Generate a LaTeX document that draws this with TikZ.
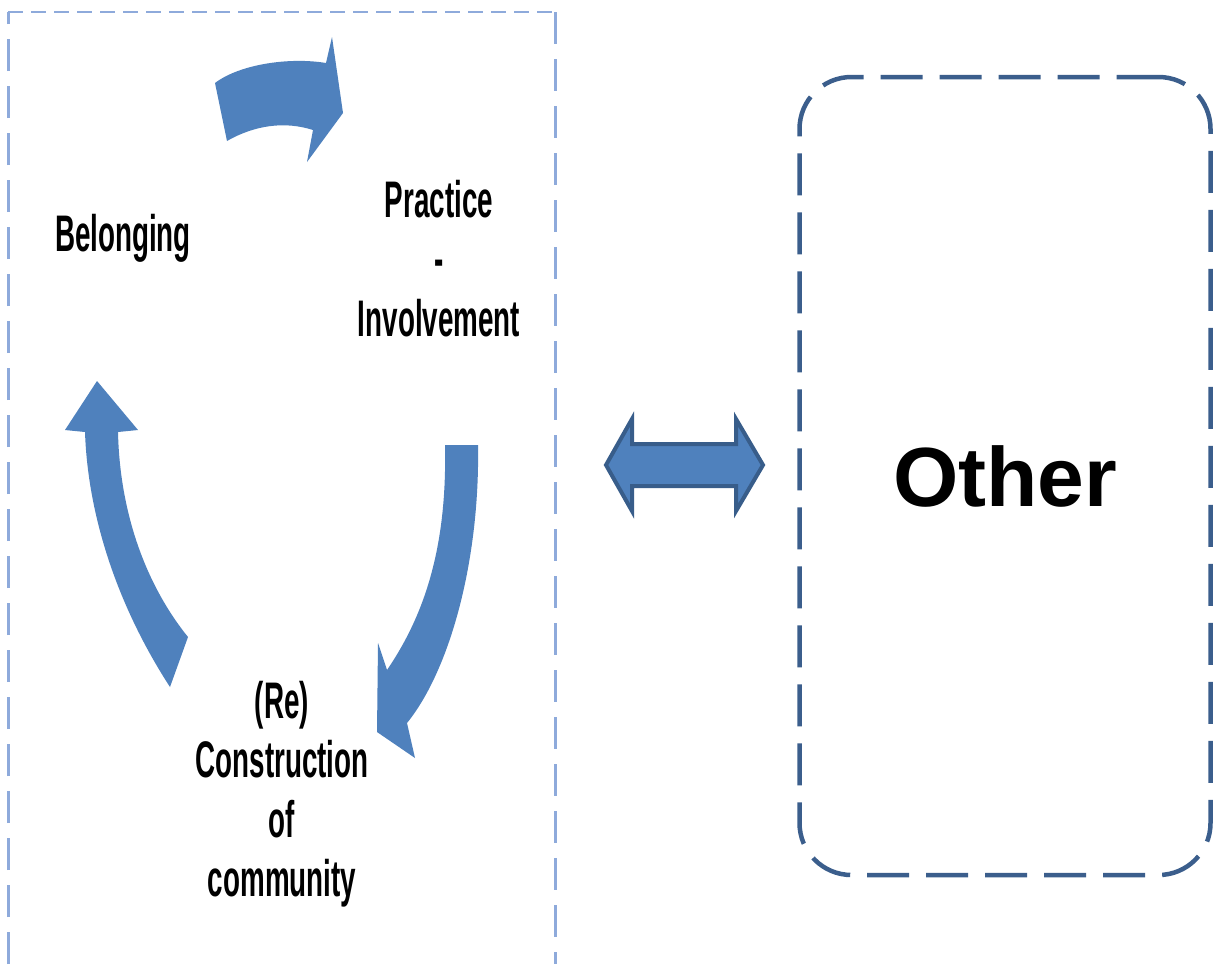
\documentclass[tikz,border=0pt]{standalone}
\usepackage{fontspec}
\setmainfont{Liberation Sans}
\usepackage{graphicx}
\definecolor{arrowblue}{HTML}{4F81BD}
\definecolor{arrowedge}{HTML}{385D8A}
\definecolor{lightdash}{HTML}{8EAADB}
\definecolor{darkdash}{HTML}{3B5E8C}
\newcommand{\stretchtext}[1]{\scalebox{1}[1.85]{\begin{tabular}[t]{@{}c@{}}#1\end{tabular}}}
\tikzset{
  cyc/.style={inner sep=0pt, anchor=base, font=\fontsize{27.8}{32.2}\selectfont\bfseries},
  cyclearrow/.style={fill=arrowblue, draw=none},
  sidedash/.style={draw=lightdash, line width=3pt, dash pattern=on 32pt off 15pt},
  topdash/.style={draw=lightdash, line width=2.5pt, dash pattern=on 15pt off 8pt},
  otherbox/.style={draw=darkdash, line width=4.5pt, dash pattern=on 42pt off 17pt,
    rounded corners=52pt, minimum width=411pt, minimum height=798pt,
    inner sep=0pt, font=\fontsize{84}{92}\selectfont\bfseries},
  dblarrow/.style={fill=arrowblue, draw=arrowedge, line width=4pt, line join=miter}
}
\begin{document}
\begin{tikzpicture}[x=1pt,y=-1pt]
\useasboundingbox (0,0) rectangle (1217,964);
\fill[white] (0,0) rectangle (1217,964);

% left dashed panel (open at the bottom)
\draw[sidedash] (8,964) -- (8,12);
\draw[topdash] (8,12) -- (555,12);
\draw[sidedash] (555,12) -- (555,964);

% cycle arrows
\fill[cyclearrow] (215,83) .. controls (240,64) and (290,57) .. (326,63)
  -- (332,37) -- (343,113) -- (307,162) -- (313,130)
  .. controls (285,121) and (255,125) .. (227,141) -- cycle;
\fill[cyclearrow] (445,445) -- (478,445)
  .. controls (480,560) and (450,670) .. (407,723)
  -- (415,758) -- (377,732) -- (378,643) -- (387,670)
  .. controls (428,610) and (447,540) .. (445,445) -- cycle;
\fill[cyclearrow] (118,432) .. controls (120,520) and (150,590) .. (188,637)
  -- (170,687) .. controls (120,610) and (88,520) .. (85,432)
  -- (65,430) -- (97,381) -- (138,430) -- cycle;

% labels
\node[cyc] (bel) at (123,251) {\stretchtext{Belonging}};
\node[cyc] (prac) at (439,217) {\stretchtext{Practice\\-\\Involvement}};
\node[cyc] (cons) at (282,718) {\stretchtext{(Re)\\Construction\\of\\community}};

% right box
\node[otherbox] (other) at (1005,476) {Other};

% double arrow
\draw[dblarrow] (606,465) -- (632,419) -- (632,444) -- (736,444) -- (736,419)
  -- (763,465) -- (736,511) -- (736,486) -- (632,486) -- (632,511) -- cycle;
\end{tikzpicture}
\end{document}
